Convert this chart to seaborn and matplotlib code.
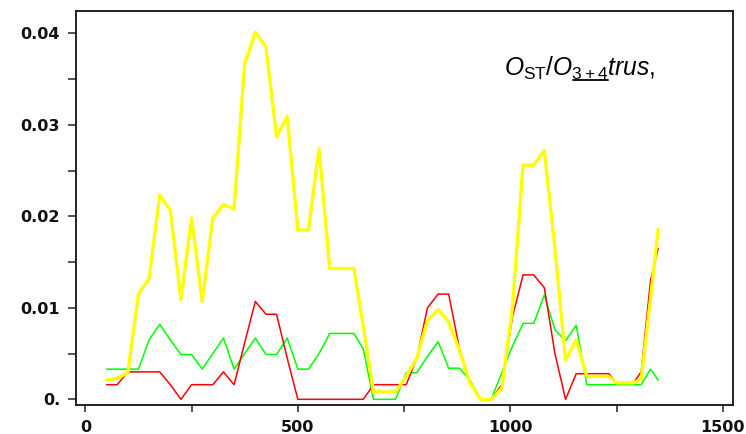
import matplotlib
matplotlib.use("Agg")
import matplotlib.pyplot as plt
from matplotlib.lines import Line2D
from matplotlib.ticker import MultipleLocator, FixedLocator, FixedFormatter
import seaborn as sns
import pandas as pd

# Sample positions along the profile
position = [50, 75, 100, 125, 150, 175, 200, 225, 250, 275, 300, 325, 350, 375,
            400, 425, 450, 475, 500, 525, 550, 575, 605, 632, 654, 678, 705, 730,
            755, 780, 805, 830, 855, 880, 905, 930, 955, 980, 1005, 1030, 1055,
            1080, 1105, 1130, 1155, 1180, 1205, 1232, 1250, 1270, 1290, 1308,
            1330, 1348]

# Ratio series
yellow_vals = [0.0021, 0.0023, 0.0029, 0.0115, 0.0132, 0.0223, 0.0207, 0.0109,
               0.0198, 0.0107, 0.0198, 0.0213, 0.0208, 0.0367, 0.0401, 0.0385,
               0.0287, 0.0309, 0.0185, 0.0185, 0.0274, 0.0143, 0.0143, 0.0143,
               0.0080, 0.0008, 0.0008, 0.0008, 0.0025, 0.0045, 0.0086, 0.0098,
               0.0085, 0.0054, 0.0018, 0.0000, 0.0000, 0.0012, 0.0100, 0.0256,
               0.0256, 0.0272, 0.0165, 0.0043, 0.0065, 0.0025, 0.0025, 0.0025,
               0.0018, 0.0018, 0.0018, 0.0022, 0.0110, 0.0186]

red_vals = [0.0016, 0.0016, 0.0030, 0.0030, 0.0030, 0.0030, 0.0016, 0.0000,
            0.0016, 0.0016, 0.0016, 0.0030, 0.0016, 0.0062, 0.0107, 0.0093,
            0.0093, 0.0045, 0.0000, 0.0000, 0.0000, 0.0000, 0.0000, 0.0000,
            0.0000, 0.0016, 0.0016, 0.0016, 0.0016, 0.0045, 0.0100, 0.0115,
            0.0115, 0.0056, 0.0019, 0.0000, 0.0000, 0.0016, 0.0090, 0.0136,
            0.0136, 0.0122, 0.0050, 0.0000, 0.0028, 0.0028, 0.0028, 0.0028,
            0.0018, 0.0018, 0.0018, 0.0030, 0.0130, 0.0165]

green_vals = [0.0033, 0.0033, 0.0033, 0.0033, 0.0065, 0.0082, 0.0065, 0.0049,
              0.0049, 0.0033, 0.0050, 0.0067, 0.0033, 0.0050, 0.0067, 0.0049,
              0.0049, 0.0067, 0.0033, 0.0033, 0.0050, 0.0072, 0.0072, 0.0072,
              0.0055, 0.0000, 0.0000, 0.0000, 0.0029, 0.0029, 0.0047, 0.0063,
              0.0034, 0.0034, 0.0021, 0.0000, 0.0000, 0.0029, 0.0058, 0.0083,
              0.0083, 0.0114, 0.0076, 0.0064, 0.0081, 0.0016, 0.0016, 0.0016,
              0.0016, 0.0016, 0.0016, 0.0016, 0.0033, 0.0021]

y_ticks = [0.0, 0.01, 0.02, 0.03, 0.04]
y_tick_labels = ["0.", "0.01", "0.02", "0.03", "0.04"]
x_ticks = [0, 500, 1000, 1500]
x_tick_labels = ["0", "500", "1000", "1500"]

df = pd.DataFrame({"x": position, "yellow": yellow_vals,
                   "red": red_vals, "green": green_vals})

sns.set_style("white")
plt.rcParams["font.family"] = ["DejaVu Sans"]
plt.rcParams["mathtext.fontset"] = "custom"
plt.rcParams["mathtext.rm"] = "Liberation Sans"
plt.rcParams["mathtext.it"] = "Liberation Sans:italic"

fig = plt.figure(figsize=(7.46, 4.34), dpi=100)
ax = fig.add_axes([76 / 746, 1 - 405 / 434, 657 / 746, 394 / 434])

sns.lineplot(data=df, x="x", y="green", color="#00ff00", lw=1.1, ax=ax)
sns.lineplot(data=df, x="x", y="red", color="#ff0000", lw=1.1, ax=ax)
sns.lineplot(data=df, x="x", y="yellow", color="#ffff00", lw=2.4, ax=ax)

ax.set_xlim(-22, 1524)
ax.set_ylim(-0.00062, 0.04244)
ax.set_xlabel("")
ax.set_ylabel("")

ax.yaxis.set_major_locator(FixedLocator(y_ticks))
ax.yaxis.set_major_formatter(FixedFormatter(y_tick_labels))
ax.yaxis.set_minor_locator(MultipleLocator(0.005))
ax.xaxis.set_major_locator(FixedLocator(x_ticks))
ax.xaxis.set_major_formatter(FixedFormatter(x_tick_labels))
ax.xaxis.set_minor_locator(MultipleLocator(250))

for side in ["left", "right", "top", "bottom"]:
    ax.spines[side].set_visible(True)
    ax.spines[side].set_color("#222222")
    ax.spines[side].set_linewidth(1.4)

ax.tick_params(axis="y", which="both", direction="out", length=5.5, width=1.1,
               color="#222222", left=True, pad=6)
ax.tick_params(axis="x", which="both", direction="out", length=5, width=1.1,
               color="#222222", bottom=True, pad=5.5)
for lab in ax.get_xticklabels() + ax.get_yticklabels():
    lab.set_fontweight("bold")
    lab.set_fontsize(11.5)
    lab.set_color("#111111")

# Ratio annotation; the "3+4" subscript is underlined
ann_x, ann_y, ann_size = 0.651, 0.836, 17.7
ax.text(ann_x, ann_y, r"$O_{\mathrm{ST}}/O_{\mathrm{3+4}}trus,$",
        transform=ax.transAxes, fontsize=ann_size, va="baseline", ha="left",
        color="black")

renderer = fig.canvas.get_renderer()


def _extent(s):
    t = ax.text(ann_x, ann_y, s, transform=ax.transAxes, fontsize=ann_size,
                va="baseline", ha="left", alpha=0)
    bb = t.get_window_extent(renderer)
    t.remove()
    return bb


bb_pre = _extent(r"$O_{\mathrm{ST}}/O$")
bb_sub = _extent(r"$O_{\mathrm{ST}}/O_{\mathrm{3+4}}$")
x0_px = bb_pre.x1 + 0.5
x1_px = bb_sub.x1
y_px = bb_sub.y0 + 2.0
inv = fig.transFigure.inverted()
(fx0, fy), (fx1, _) = inv.transform([(x0_px, y_px), (x1_px, y_px)])
fig.add_artist(Line2D([fx0, fx1], [fy, fy], transform=fig.transFigure,
                      color="black", lw=1.3))

fig.savefig("out.png", dpi=100)
